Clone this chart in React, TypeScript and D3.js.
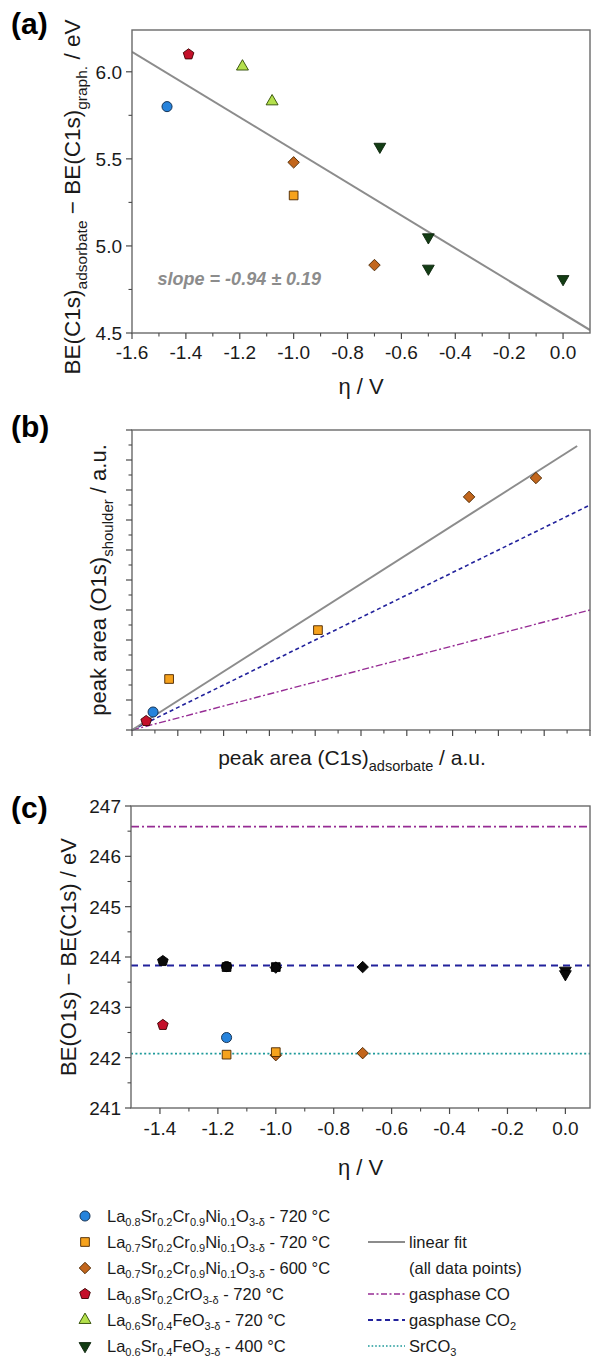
import React from "react";
import * as d3 from "d3";

const W = 592;
const H = 1359;
const FONT = "'Liberation Sans', Arial, Helvetica, sans-serif";

// ---------- Panel (a) data ----------
const aEtaTicks = [-1.6, -1.4, -1.2, -1.0, -0.8, -0.6, -0.4, -0.2, 0.0];
const aEtaTickLabels = ["-1.6", "-1.4", "-1.2", "-1.0", "-0.8", "-0.6", "-0.4", "-0.2", "0.0"];
const aEtaMinor = [-1.5, -1.3, -1.1, -0.9, -0.7, -0.5, -0.3, -0.1];
const aBeTicks = [4.5, 5.0, 5.5, 6.0];
const aBeTickLabels = ["4.5", "5.0", "5.5", "6.0"];
const aBeMinor = [4.75, 5.25, 5.75];

const aCircleX = [-1.47];
const aCircleY = [5.8];
const aSquareX = [-1.0];
const aSquareY = [5.29];
const aDiamondX = [-1.0, -0.7];
const aDiamondY = [5.48, 4.89];
const aPentagonX = [-1.39];
const aPentagonY = [6.1];
const aTriUpX = [-1.19, -1.08];
const aTriUpY = [6.03, 5.83];
const aTriDownX = [-0.68, -0.5, -0.5, 0.0];
const aTriDownY = [5.57, 5.05, 4.87, 4.81];
const aFitX = [-1.6, 0.1];
const aFitSlope = -0.94;
const aFitIntercept = 4.611;
const aSlopeText = "slope = -0.94 ± 0.19";

// ---------- Panel (b) data ----------
const bMajor = [0, 1, 2, 3, 4, 5, 6, 7, 8, 9, 10];
const bMinor = [0.5, 1.5, 2.5, 3.5, 4.5, 5.5, 6.5, 7.5, 8.5, 9.5];
const bCircleX = [0.46];
const bCircleY = [0.6];
const bSquareX = [0.81, 4.06];
const bSquareY = [1.7, 3.33];
const bDiamondX = [7.36, 8.82];
const bDiamondY = [7.77, 8.4];
const bPentagonX = [0.31];
const bPentagonY = [0.3];
const bFitX = [0, 9.72];
const bFitSlope = 0.974;
const bCO2X = [0, 10];
const bCO2Slope = 0.75;
const bCOX = [0, 10];
const bCOSlope = 0.4;

// ---------- Panel (c) data ----------
const cEtaTicks = [-1.4, -1.2, -1.0, -0.8, -0.6, -0.4, -0.2, 0.0];
const cEtaTickLabels = ["-1.4", "-1.2", "-1.0", "-0.8", "-0.6", "-0.4", "-0.2", "0.0"];
const cEtaMinor = [-1.3, -1.1, -0.9, -0.7, -0.5, -0.3, -0.1];
const cBeTicks = [241, 242, 243, 244, 245, 246, 247];
const cBeTickLabels = ["241", "242", "243", "244", "245", "246", "247"];
const cBeMinor = [241.5, 242.5, 243.5, 244.5, 245.5, 246.5];

const cCircleX = [-1.17];
const cCircleY = [242.4];
const cDiamondX = [-1.0, -0.7];
const cDiamondY = [242.05, 242.09];
const cSquareX = [-1.17, -1.0];
const cSquareY = [242.06, 242.11];
const cPentagonX = [-1.39];
const cPentagonY = [242.65];
// black (second component) markers
const cBlackPentagonX = [-1.39];
const cBlackPentagonY = [243.92];
const cBlackCircleX = [-1.17];
const cBlackCircleY = [243.81];
const cBlackSquareX = [-1.17, -1.0];
const cBlackSquareY = [243.8, 243.8];
const cBlackDiamondX = [-1.0, -0.7];
const cBlackDiamondY = [243.79, 243.8];
const cBlackTriDownX = [0.0, 0.0];
const cBlackTriDownY = [243.73, 243.66];
const cCOLevel = 246.59;
const cCO2Level = 243.83;
const cSrCO3Level = 242.08;

// ---------- Legend ----------
const legendSamples = [
  { shape: "circle", parts: [["La"], ["0.8", 1], ["Sr"], ["0.2", 1], ["Cr"], ["0.9", 1], ["Ni"], ["0.1", 1], ["O"], ["3-δ", 1], [" - 720 °C"]] },
  { shape: "square", parts: [["La"], ["0.7", 1], ["Sr"], ["0.2", 1], ["Cr"], ["0.9", 1], ["Ni"], ["0.1", 1], ["O"], ["3-δ", 1], [" - 720 °C"]] },
  { shape: "diamond", parts: [["La"], ["0.7", 1], ["Sr"], ["0.2", 1], ["Cr"], ["0.9", 1], ["Ni"], ["0.1", 1], ["O"], ["3-δ", 1], [" - 600 °C"]] },
  { shape: "pentagon", parts: [["La"], ["0.8", 1], ["Sr"], ["0.2", 1], ["CrO"], ["3-δ", 1], [" - 720 °C"]] },
  { shape: "triUp", parts: [["La"], ["0.6", 1], ["Sr"], ["0.4", 1], ["FeO"], ["3-δ", 1], [" - 720 °C"]] },
  { shape: "triDown", parts: [["La"], ["0.6", 1], ["Sr"], ["0.4", 1], ["FeO"], ["3-δ", 1], [" - 400 °C"]] },
];
const legendLines = [
  { style: "fit", parts: [["linear fit"]], row: 1 },
  { style: "none", parts: [["(all data points)"]], row: 2 },
  { style: "co", parts: [["gasphase CO"]], row: 3 },
  { style: "co2", parts: [["gasphase CO"], ["2", 1]], row: 4 },
  { style: "srco3", parts: [["SrCO"], ["3", 1]], row: 5 },
];

// ---------- styles ----------
const MARK = {
  circle: { fill: "#2683dc", stroke: "#0b2747", size: 80 },
  square: { fill: "#f6a21c", stroke: "#4a2600", size: 76 },
  diamond: { fill: "#c2661c", stroke: "#4a2600", size: 66 },
  pentagon: { fill: "#c4102a", stroke: "#3c0000", size: 74 },
  triUp: { fill: "#b4e04c", stroke: "#2c4a00", size: 62 },
  triDown: { fill: "#133d14", stroke: "#0a220a", size: 60 },
};
const FIT_COLOR = "#8c8c8c";
const CO_COLOR = "#962c94";
const CO2_COLOR = "#22229c";
const SRCO3_COLOR = "#1e9a9a";
const AXIS_COLOR = "#4a4a4a";
const FRAME_COLOR = "#6a6a6a";

const pentagonType = {
  draw(ctx: any, size: number) {
    const r = Math.sqrt(size / (2.5 * Math.sin((2 * Math.PI) / 5)));
    for (let i = 0; i < 5; i++) {
      const a = -Math.PI / 2 + (i * 2 * Math.PI) / 5;
      const x = r * Math.cos(a);
      const y = r * Math.sin(a);
      if (i === 0) ctx.moveTo(x, y);
      else ctx.lineTo(x, y);
    }
    ctx.closePath();
  },
};
const diamondType = {
  draw(ctx: any, size: number) {
    const r = Math.sqrt(size / 2);
    ctx.moveTo(0, -r);
    ctx.lineTo(r, 0);
    ctx.lineTo(0, r);
    ctx.lineTo(-r, 0);
    ctx.closePath();
  },
};

function symPath(shape: string, size: number) {
  let type: any = d3.symbolCircle;
  if (shape === "square") type = d3.symbolSquare;
  else if (shape === "diamond") type = diamondType;
  else if (shape === "pentagon") type = pentagonType;
  else if (shape === "triUp" || shape === "triDown") type = d3.symbolTriangle;
  return d3.symbol().type(type).size(size)() as string;
}

function Marker({ shape, x, y, black }: { shape: string; x: number; y: number; black?: boolean }) {
  const m = (MARK as any)[shape];
  const rot = shape === "triDown" ? " rotate(180)" : "";
  return (
    <path
      d={symPath(shape, m.size)}
      transform={`translate(${x},${y})${rot}`}
      fill={black ? "#0a0a0a" : m.fill}
      stroke={black ? "#000" : m.stroke}
      strokeWidth={0.9}
    />
  );
}

function Rich({ parts, size, subSize, subShift = 0.3, ...rest }: any) {
  let cur = 0;
  const spans = parts.map((p: any, i: number) => {
    const isSub = !!p[1];
    const target = isSub ? size * subShift : 0;
    const dy = target - cur;
    cur = target;
    return (
      <tspan key={i} dy={dy} fontSize={isSub ? subSize : size}>
        {p[0]}
      </tspan>
    );
  });
  return (
    <text fontFamily={FONT} style={{ whiteSpace: "pre" }} {...rest}>
      {spans}
    </text>
  );
}

function Frame({ x0, x1, y0, y1 }: any) {
  return (
    <rect x={x0} y={y0} width={x1 - x0} height={y1 - y0} fill="none" stroke={FRAME_COLOR} strokeWidth={1.4} />
  );
}

function XTicks({ scale, y, major, minor, labels, labelDy = 26 }: any) {
  return (
    <g>
      {major.map((v: number, i: number) => (
        <line key={"M" + i} x1={scale(v)} x2={scale(v)} y1={y} y2={y + 6} stroke={AXIS_COLOR} strokeWidth={1.2} />
      ))}
      {minor.map((v: number, i: number) => (
        <line key={"m" + i} x1={scale(v)} x2={scale(v)} y1={y} y2={y + 3.5} stroke={AXIS_COLOR} strokeWidth={1.1} />
      ))}
      {labels &&
        major.map((v: number, i: number) => (
          <text key={"l" + i} x={scale(v)} y={y + labelDy} textAnchor="middle" fontFamily={FONT} fontSize={19} fill="#1a1a1a">
            {labels[i]}
          </text>
        ))}
    </g>
  );
}

function YTicks({ scale, x, major, minor, labels }: any) {
  return (
    <g>
      {major.map((v: number, i: number) => (
        <line key={"M" + i} x1={x - 6} x2={x} y1={scale(v)} y2={scale(v)} stroke={AXIS_COLOR} strokeWidth={1.2} />
      ))}
      {minor.map((v: number, i: number) => (
        <line key={"m" + i} x1={x - 3.5} x2={x} y1={scale(v)} y2={scale(v)} stroke={AXIS_COLOR} strokeWidth={1.1} />
      ))}
      {labels &&
        major.map((v: number, i: number) => (
          <text key={"l" + i} x={x - 10} y={scale(v) + 7} textAnchor="end" fontFamily={FONT} fontSize={19} fill="#1a1a1a">
            {labels[i]}
          </text>
        ))}
    </g>
  );
}

function pts(xs: number[], ys: number[]) {
  return xs.map((x, i) => [x, ys[i]] as [number, number]);
}

export default function App() {
  // panel a
  const A = { x0: 132, x1: 590, y0: 30, y1: 333 };
  const xA = d3.scaleLinear().domain([-1.6, 0.1]).range([A.x0, A.x1]);
  const yA = d3.scaleLinear().domain([4.5, 6.24]).range([A.y1, A.y0]);
  const lineA = d3
    .line<number>()
    .x((d) => xA(d))
    .y((d) => yA(aFitIntercept + aFitSlope * d));

  // panel b
  const B = { x0: 132, x1: 590, y0: 430, y1: 730 };
  const xB = d3.scaleLinear().domain([0, 10]).range([B.x0, B.x1]);
  const yB = d3.scaleLinear().domain([0, 10]).range([B.y1, B.y0]);
  const propLine = (slope: number) =>
    d3
      .line<number>()
      .x((d) => xB(d))
      .y((d) => yB(slope * d));

  // panel c
  const C = { x0: 131, x1: 590, y0: 806, y1: 1108 };
  const xC = d3.scaleLinear().domain([-1.5, 0.085]).range([C.x0, C.x1]);
  const yC = d3.scaleLinear().domain([241, 247]).range([C.y1, C.y0]);

  const TITLE = 22;
  const SUB = 15;

  const legY0 = 1216;
  const legDy = 26;

  return (
    <div style={{ position: "absolute", left: 0, top: 0, width: W, height: H, background: "#fff" }}>
      <svg width={W} height={H} viewBox={`0 0 ${W} ${H}`} style={{ display: "block" }}>
        <rect width={W} height={H} fill="#fff" />

        {/* ================= Panel (a) ================= */}
        <text x={11} y={34} fontFamily={FONT} fontWeight="bold" fontSize={30}>(a)</text>
        <defs>
          <clipPath id="clipA">
            <rect x={A.x0} y={A.y0} width={A.x1 - A.x0} height={A.y1 - A.y0} />
          </clipPath>
        </defs>
        <path d={lineA(aFitX) as string} stroke={FIT_COLOR} strokeWidth={2} fill="none" clipPath="url(#clipA)" />
        {pts(aCircleX, aCircleY).map((p, i) => <Marker key={"ac" + i} shape="circle" x={xA(p[0])} y={yA(p[1])} />)}
        {pts(aPentagonX, aPentagonY).map((p, i) => <Marker key={"ap" + i} shape="pentagon" x={xA(p[0])} y={yA(p[1])} />)}
        {pts(aTriUpX, aTriUpY).map((p, i) => <Marker key={"au" + i} shape="triUp" x={xA(p[0])} y={yA(p[1])} />)}
        {pts(aDiamondX, aDiamondY).map((p, i) => <Marker key={"ad" + i} shape="diamond" x={xA(p[0])} y={yA(p[1])} />)}
        {pts(aSquareX, aSquareY).map((p, i) => <Marker key={"as" + i} shape="square" x={xA(p[0])} y={yA(p[1])} />)}
        {pts(aTriDownX, aTriDownY).map((p, i) => <Marker key={"at" + i} shape="triDown" x={xA(p[0])} y={yA(p[1])} />)}
        <text x={xA(-1.505)} y={yA(4.813) + 7} fontFamily={FONT} fontSize={18} fontWeight="bold" fontStyle="italic" fill="#8c8c8c">
          {aSlopeText}
        </text>
        <Frame {...A} />
        <XTicks scale={xA} y={A.y1} major={aEtaTicks} minor={aEtaMinor} labels={aEtaTickLabels} />
        <YTicks scale={yA} x={A.x0} major={aBeTicks} minor={aBeMinor} labels={aBeTickLabels} />
        <Rich parts={[["η / V"]]} size={TITLE} subSize={SUB} x={(A.x0 + A.x1) / 2} y={394} textAnchor="middle" fill="#1a1a1a" />
        <Rich
          parts={[["BE(C1s)"], ["adsorbate", 1], [" − BE(C1s)"], ["graph.", 1], [" / eV"]]}
          size={22.5}
          subSize={15.5}
          transform={`translate(80,197) rotate(-90)`}
          textAnchor="middle"
          fill="#1a1a1a"
        />

        {/* ================= Panel (b) ================= */}
        <text x={11} y={437} fontFamily={FONT} fontWeight="bold" fontSize={30}>(b)</text>
        <path d={propLine(bCOSlope)(bCOX) as string} stroke={CO_COLOR} strokeWidth={1.4} strokeDasharray="7,2.5,2,2.5" fill="none" />
        <path d={propLine(bCO2Slope)(bCO2X) as string} stroke={CO2_COLOR} strokeWidth={1.6} strokeDasharray="4,3" fill="none" />
        <path d={propLine(bFitSlope)(bFitX) as string} stroke={FIT_COLOR} strokeWidth={2} fill="none" />
        {pts(bPentagonX, bPentagonY).map((p, i) => <Marker key={"bp" + i} shape="pentagon" x={xB(p[0])} y={yB(p[1])} />)}
        {pts(bCircleX, bCircleY).map((p, i) => <Marker key={"bc" + i} shape="circle" x={xB(p[0])} y={yB(p[1])} />)}
        {pts(bSquareX, bSquareY).map((p, i) => <Marker key={"bs" + i} shape="square" x={xB(p[0])} y={yB(p[1])} />)}
        {pts(bDiamondX, bDiamondY).map((p, i) => <Marker key={"bd" + i} shape="diamond" x={xB(p[0])} y={yB(p[1])} />)}
        <Frame {...B} />
        <XTicks scale={xB} y={B.y1} major={bMajor} minor={bMinor} />
        <YTicks scale={yB} x={B.x0} major={bMajor} minor={bMinor} />
        <Rich
          parts={[["peak area (C1s)"], ["adsorbate", 1], [" / a.u."]]}
          size={21}
          subSize={14.5}
          x={352}
          y={765}
          textAnchor="middle"
          fill="#1a1a1a"
        />
        <Rich
          parts={[["peak area (O1s)"], ["shoulder", 1], [" / a.u."]]}
          size={TITLE}
          subSize={SUB}
          transform={`translate(106,${(B.y0 + B.y1) / 2}) rotate(-90)`}
          textAnchor="middle"
          fill="#1a1a1a"
        />

        {/* ================= Panel (c) ================= */}
        <text x={11} y={818} fontFamily={FONT} fontWeight="bold" fontSize={30}>(c)</text>
        <line x1={C.x0} x2={C.x1} y1={yC(cCOLevel)} y2={yC(cCOLevel)} stroke={CO_COLOR} strokeWidth={1.6} strokeDasharray="8,3,2,3" />
        <line x1={C.x0} x2={C.x1} y1={yC(cCO2Level)} y2={yC(cCO2Level)} stroke={CO2_COLOR} strokeWidth={2} strokeDasharray="7,5" />
        <line x1={C.x0} x2={C.x1} y1={yC(cSrCO3Level)} y2={yC(cSrCO3Level)} stroke={SRCO3_COLOR} strokeWidth={1.8} strokeDasharray="2,2.4" />
        {pts(cBlackPentagonX, cBlackPentagonY).map((p, i) => <Marker key={"kp" + i} shape="pentagon" black x={xC(p[0])} y={yC(p[1])} />)}
        {pts(cBlackCircleX, cBlackCircleY).map((p, i) => <Marker key={"kc" + i} shape="circle" black x={xC(p[0])} y={yC(p[1])} />)}
        {pts(cBlackSquareX, cBlackSquareY).map((p, i) => <Marker key={"ks" + i} shape="square" black x={xC(p[0])} y={yC(p[1])} />)}
        {pts(cBlackDiamondX, cBlackDiamondY).map((p, i) => <Marker key={"kd" + i} shape="diamond" black x={xC(p[0])} y={yC(p[1])} />)}
        {pts(cBlackTriDownX, cBlackTriDownY).map((p, i) => <Marker key={"kt" + i} shape="triDown" black x={xC(p[0])} y={yC(p[1])} />)}
        {pts(cPentagonX, cPentagonY).map((p, i) => <Marker key={"cp" + i} shape="pentagon" x={xC(p[0])} y={yC(p[1])} />)}
        {pts(cCircleX, cCircleY).map((p, i) => <Marker key={"cc" + i} shape="circle" x={xC(p[0])} y={yC(p[1])} />)}
        {pts(cDiamondX, cDiamondY).map((p, i) => <Marker key={"cd" + i} shape="diamond" x={xC(p[0])} y={yC(p[1])} />)}
        {pts(cSquareX, cSquareY).map((p, i) => <Marker key={"cs" + i} shape="square" x={xC(p[0])} y={yC(p[1])} />)}
        <Frame {...C} />
        <XTicks scale={xC} y={C.y1} major={cEtaTicks} minor={cEtaMinor} labels={cEtaTickLabels} labelDy={27} />
        <YTicks scale={yC} x={C.x0} major={cBeTicks} minor={cBeMinor} labels={cBeTickLabels} />
        <Rich parts={[["η / V"]]} size={TITLE} subSize={SUB} x={(C.x0 + C.x1) / 2} y={1175} textAnchor="middle" fill="#1a1a1a" />
        <Rich
          parts={[["BE(O1s) − BE(C1s) / eV"]]}
          size={TITLE}
          subSize={SUB}
          transform={`translate(76,${(C.y0 + C.y1) / 2}) rotate(-90)`}
          textAnchor="middle"
          fill="#1a1a1a"
        />

        {/* ================= Legend ================= */}
        {legendSamples.map((s, i) => (
          <g key={"ls" + i}>
            <Marker shape={s.shape} x={85} y={legY0 + i * legDy} />
            <Rich parts={s.parts} size={16.5} subSize={11} subShift={0.25} x={107} y={legY0 + i * legDy + 6} fill="#1a1a1a" />
          </g>
        ))}
        {legendLines.map((l, i) => {
          const y = legY0 + l.row * legDy;
          let line = null;
          if (l.style === "fit") line = <line x1={368} x2={405} y1={y} y2={y} stroke={FIT_COLOR} strokeWidth={2} />;
          if (l.style === "co") line = <line x1={368} x2={405} y1={y} y2={y} stroke={CO_COLOR} strokeWidth={1.6} strokeDasharray="6,2.5,2,2.5" />;
          if (l.style === "co2") line = <line x1={368} x2={405} y1={y} y2={y} stroke={CO2_COLOR} strokeWidth={1.8} strokeDasharray="5,3.5" />;
          if (l.style === "srco3") line = <line x1={368} x2={405} y1={y} y2={y} stroke={SRCO3_COLOR} strokeWidth={1.6} strokeDasharray="1.6,2" />;
          return (
            <g key={"ll" + i}>
              {line}
              <Rich parts={l.parts} size={16.5} subSize={11} subShift={0.25} x={409} y={y + 6} fill="#1a1a1a" />
            </g>
          );
        })}
      </svg>
    </div>
  );
}
